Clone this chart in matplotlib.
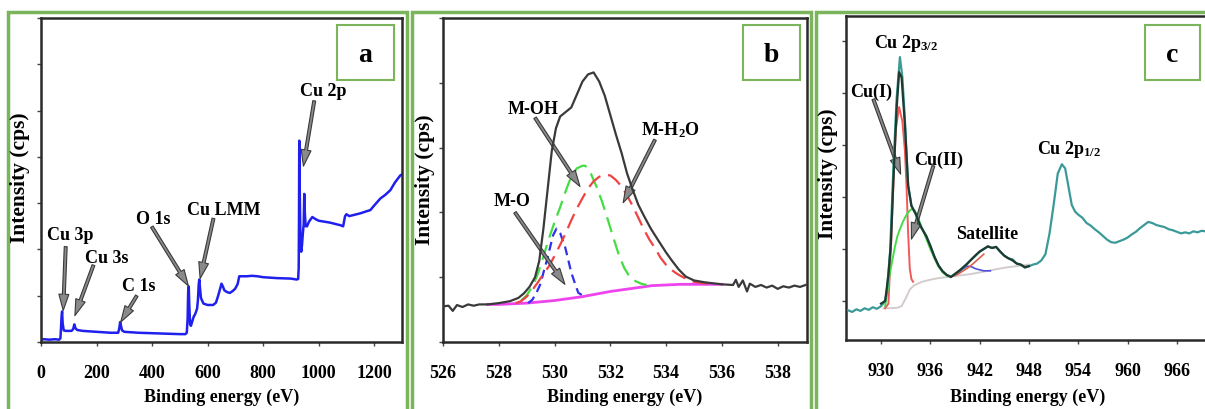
import matplotlib
matplotlib.use("Agg")
import matplotlib.pyplot as plt
from matplotlib.patches import Rectangle

plt.rcParams['font.family'] = ['Liberation Serif', 'DejaVu Serif']
plt.rcParams['font.weight'] = 'bold'
plt.rcParams['mathtext.fontset'] = 'custom'
plt.rcParams['mathtext.rm'] = 'Liberation Serif:bold'
plt.rcParams['mathtext.it'] = 'Liberation Serif:bold:italic'
plt.rcParams['mathtext.bf'] = 'Liberation Serif:bold'
plt.rcParams['mathtext.default'] = 'rm'

# ---------------- Panel a: survey spectrum ----------------
a_x = [0, 10, 30, 50, 65, 70, 72, 74, 76, 78, 82, 90, 100, 110, 116, 120, 124, 130, 150,
       200, 250, 278, 282, 285, 288, 292, 300, 350, 400, 450, 500, 520, 525, 528, 530,
       532, 534, 537, 540, 545, 550, 555, 558, 562, 565, 568, 570, 572, 576, 585, 600,
       620, 630, 638, 645, 650, 655, 660, 669, 680, 690, 699, 708, 714, 720, 740, 760,
       780, 800, 850, 900, 920, 926, 928, 929, 930, 932, 934, 937, 940, 943, 946, 948,
       950, 953, 958, 965, 977, 990, 1000, 1020, 1040, 1060, 1080, 1088, 1095, 1100,
       1110, 1130, 1150, 1170, 1186, 1200, 1222, 1240, 1258, 1275, 1294, 1300]
a_y = [0.05, 0.06, 0.05, 0.06, 0.05, 0.08, 0.3, 0.55, 0.66, 0.4, 0.25, 0.24, 0.24, 0.24,
       0.28, 0.38, 0.3, 0.26, 0.24, 0.22, 0.2, 0.2, 0.3, 0.43, 0.35, 0.25, 0.22, 0.2,
       0.19, 0.18, 0.17, 0.17, 0.2, 0.5, 1.1, 1.2, 0.8, 0.38, 0.35, 0.45, 0.55, 0.6,
       0.65, 0.72, 0.9, 1.25, 1.35, 1.2, 0.95, 0.83, 0.8, 0.8, 0.85, 1.0, 1.15, 1.26,
       1.2, 1.12, 1.08, 1.06, 1.1, 1.15, 1.25, 1.42, 1.42, 1.42, 1.43, 1.42, 1.4, 1.38,
       1.37, 1.35, 1.36, 1.6, 2.6, 4.35, 3.2, 2.3, 1.95, 2.1, 2.35, 2.55, 3.2, 2.8, 2.5,
       2.5, 2.6, 2.7, 2.65, 2.62, 2.6, 2.58, 2.55, 2.52, 2.5, 2.72, 2.76, 2.72, 2.75,
       2.78, 2.82, 2.85, 2.95, 3.1, 3.18, 3.28, 3.45, 3.6, 3.62]

a_labels = ["Cu 3p", "Cu 3s", "C 1s", "O 1s", "Cu LMM", "Cu 2p"]
a_label_xy = [(104, 2.22), (237, 1.72), (351, 1.13), (403, 2.57), (657, 2.76), (1017, 5.34)]
a_arrow_tail = [(89, 2.06), (189, 1.66), (345, 1.0), (399, 2.49), (621, 2.67), (984, 5.21)]
a_arrow_head = [(80, 0.68), (122, 0.57), (287, 0.43), (531, 1.21), (573, 1.37), (945, 3.8)]
a_xticks = [0, 200, 400, 600, 800, 1000, 1200]

# ---------------- Panel b: O 1s ----------------
b_env_x = [526.0, 526.2, 526.35, 526.5, 526.7, 526.9, 527.1, 527.3, 527.6, 528.0, 528.4,
           528.7, 528.9, 529.1, 529.3, 529.45, 529.6, 529.75, 529.9, 530.05, 530.2,
           530.4, 530.6, 530.8, 531.0, 531.2, 531.4, 531.6, 531.8, 532.0, 532.2, 532.4,
           532.6, 532.8, 533.0, 533.2, 533.45, 533.7, 534.0, 534.2, 534.45, 534.7,
           535.0, 535.4, 536.0, 536.4, 536.5, 536.6, 536.75, 536.9, 537.0, 537.2,
           537.4, 537.6, 537.8, 538.0, 538.2, 538.4, 538.6, 538.8, 539.0]
b_env_y = [0.55, 0.56, 0.48, 0.57, 0.54, 0.58, 0.56, 0.58, 0.58, 0.6, 0.63, 0.68, 0.75,
           0.85, 1.0, 1.25, 1.75, 2.35, 2.95, 3.3, 3.48, 3.55, 3.62, 3.82, 4.02, 4.13,
           4.16, 4.02, 3.8, 3.5, 3.2, 2.92, 2.6, 2.35, 2.12, 1.95, 1.75, 1.58, 1.38,
           1.26, 1.12, 1.01, 0.95, 0.92, 0.89, 0.88, 0.96, 0.85, 0.95, 0.78, 0.9, 0.85,
           0.88, 0.84, 0.87, 0.82, 0.86, 0.84, 0.87, 0.85, 0.88]
b_bg_x = [527.6, 528.0, 528.5, 529.0, 529.5, 530.0, 530.5, 531.0, 531.5, 532.0, 532.5,
          533.0, 533.5, 534.0, 534.5, 535.0, 535.5, 536.0]
b_bg_y = [0.58, 0.58, 0.59, 0.6, 0.62, 0.64, 0.67, 0.7, 0.74, 0.78, 0.81, 0.84, 0.87,
          0.88, 0.89, 0.89, 0.89, 0.89]
b_mo_x = [529.05, 529.2, 529.35, 529.5, 529.6, 529.75, 529.85, 529.95, 530.07, 530.2,
          530.37, 530.5, 530.6, 530.75, 530.85, 531.0, 531.15]
b_mo_y = [0.6, 0.65, 0.76, 0.9, 1.07, 1.3, 1.48, 1.65, 1.75, 1.68, 1.48, 1.25, 1.07,
          0.88, 0.76, 0.72, 0.71]
b_moh_x = [528.8, 529.0, 529.2, 529.4, 529.6, 529.8, 530.0, 530.2, 530.4, 530.6, 530.8,
           531.0, 531.1, 531.3, 531.5, 531.7, 531.9, 532.1, 532.3, 532.5, 532.7, 532.9,
           533.1, 533.3]
b_moh_y = [0.64, 0.72, 0.85, 1.05, 1.32, 1.6, 1.85, 2.08, 2.33, 2.56, 2.68, 2.72, 2.72,
           2.6, 2.4, 2.17, 1.9, 1.62, 1.35, 1.14, 1.0, 0.94, 0.9, 0.88]
b_mh2o_x = [528.6, 528.8, 529.0, 529.2, 529.4, 529.6, 529.8, 530.0, 530.2, 530.4, 530.6,
            530.8, 531.0, 531.2, 531.4, 531.6, 531.8, 532.0, 532.2, 532.4, 532.6, 532.8,
            533.0, 533.2, 533.4, 533.6, 533.8, 534.0, 534.2, 534.4, 534.6, 534.8, 535.0,
            535.3, 535.6]
b_mh2o_y = [0.6, 0.63, 0.7, 0.8, 0.92, 1.05, 1.17, 1.33, 1.5, 1.68, 1.88, 2.06, 2.22,
            2.37, 2.48, 2.55, 2.58, 2.57, 2.5, 2.4, 2.26, 2.1, 1.92, 1.74, 1.58, 1.45,
            1.3, 1.19, 1.11, 1.05, 1.0, 0.96, 0.93, 0.91, 0.9]
b_labels = ["M-OH", "M-H$_2$O", "M-O"]
b_label_xy = [(529.24, 3.53), (534.17, 3.2), (528.46, 2.11)]
b_arrow_tail = [(529.3, 3.46), (533.6, 3.12), (528.58, 2.0)]
b_arrow_head = [(530.91, 2.4), (532.46, 2.15), (530.37, 0.89)]
b_xticks = [526, 528, 530, 532, 534, 536, 538]

# ---------------- Panel c: Cu 2p ----------------
c_x = [926, 926.5, 927, 927.5, 928, 928.5, 929, 929.5, 930, 930.5, 930.7, 931.1, 931.5,
       931.9, 932.3, 932.6, 932.9, 933.3, 933.7, 934.2, 934.8, 935.5, 936, 936.5,
       937, 937.5, 938, 938.5, 939, 939.5, 940, 940.5, 941, 941.5, 942, 942.5, 943,
       943.5, 944, 944.5, 945, 945.5, 946, 946.5, 947, 947.5, 948, 948.5, 949, 949.5,
       950, 950.5, 951, 951.5, 952, 952.4, 952.8, 953.2, 953.6, 954, 954.5, 955, 955.5,
       956, 956.5, 957, 957.5, 958, 958.5, 959, 959.5, 960, 960.5, 961, 961.5, 962,
       962.5, 963, 963.5, 964, 964.5, 965, 965.5, 966, 966.5, 967, 967.5, 968, 968.5,
       969, 969.5, 970]
c_y = [0.82, 0.79, 0.84, 0.81, 0.86, 0.83, 0.88, 0.85, 0.9, 1.0, 1.17, 1.94, 3.54, 4.9,
       5.69, 5.3, 4.5, 3.22, 2.83, 2.68, 2.44, 2.25, 2.06, 1.85, 1.68, 1.57, 1.5,
       1.47, 1.52, 1.58, 1.63, 1.72, 1.8, 1.87, 1.95, 2.0, 2.05, 2.02, 2.04, 1.95, 1.87,
       1.82, 1.8, 1.72, 1.7, 1.64, 1.67, 1.7, 1.72, 1.78, 1.9, 2.3, 2.85, 3.45, 3.63,
       3.55, 3.2, 2.85, 2.72, 2.66, 2.6, 2.5, 2.45, 2.38, 2.32, 2.25, 2.18, 2.13, 2.12,
       2.15, 2.18, 2.22, 2.28, 2.33, 2.4, 2.46, 2.52, 2.5, 2.46, 2.44, 2.42, 2.38, 2.36,
       2.33, 2.3, 2.32, 2.3, 2.34, 2.32, 2.35, 2.34, 2.33]
c_env_x = [930.0, 930.5, 930.9, 931.2, 931.5, 931.9, 932.2, 932.5, 932.9, 933.3, 933.7,
           934.2, 934.8, 935.5, 936, 936.5, 937, 937.5, 938, 938.5, 939, 939.5, 940,
           940.5, 941, 941.5, 942, 942.5, 943, 943.5, 944, 944.5, 945, 945.5, 946,
           946.5, 947, 947.5, 948]
c_env_y = [0.95, 1.0, 1.5, 2.1, 3.3, 4.7, 5.4, 5.3, 4.4, 3.22, 2.83, 2.68, 2.44,
           2.25, 2.06, 1.85, 1.68, 1.57, 1.5, 1.46, 1.52, 1.58, 1.65, 1.72, 1.8, 1.88,
           1.95, 2.0, 2.05, 2.02, 2.04, 1.95, 1.87, 1.82, 1.78, 1.72, 1.7, 1.65, 1.67]
c_cu1_x = [930.5, 930.9, 931.2, 931.5, 931.8, 932.2, 932.6, 932.9, 933.1, 933.3, 933.5,
           933.7, 933.9]
c_cu1_y = [0.86, 0.95, 2.0, 3.22, 4.3, 4.73, 4.45, 3.9, 3.22, 2.3, 1.62, 1.42, 1.37]
c_cu2_x = [930.5, 930.8, 931.1, 931.4, 931.7, 932.0, 932.3, 932.6, 932.9, 933.2, 933.5,
           933.8, 934.1, 934.5, 935, 935.5, 936, 936.5, 937, 937.5, 938]
c_cu2_y = [0.9, 1.2, 1.55, 1.8, 2.05, 2.25, 2.38, 2.5, 2.6, 2.68, 2.74, 2.77, 2.74, 2.6,
           2.4, 2.2, 2.0, 1.82, 1.66, 1.55, 1.49]
c_bg_x = [930.3, 931, 932, 932.5, 933, 933.5, 934, 935, 936, 937, 938, 939, 940, 941,
          942, 943, 944, 945, 946, 947, 948]
c_bg_y = [0.86, 0.86, 0.87, 0.9, 1.05, 1.22, 1.3, 1.37, 1.41, 1.44, 1.46, 1.48, 1.5,
          1.52, 1.55, 1.58, 1.61, 1.64, 1.66, 1.68, 1.7]
c_sat1_x = [938.5, 939, 939.5, 940, 940.5, 941, 941.5, 942, 942.5, 943.3]
c_sat1_y = [1.47, 1.5, 1.56, 1.62, 1.67, 1.66, 1.62, 1.6, 1.58, 1.58]
c_sat2_x = [938.5, 939, 939.5, 940, 940.5, 941, 941.5, 942, 942.5]
c_sat2_y = [1.47, 1.49, 1.53, 1.58, 1.63, 1.69, 1.76, 1.83, 1.9]
c_labels = ["Cu 2p$_{3/2}$", "Cu(I)", "Cu(II)", "Satellite", "Cu 2p$_{1/2}$"]
c_label_xy = [(933.0, 5.88), (928.76, 4.95), (936.97, 3.63), (942.86, 2.22), (952.87, 3.85)]
c_arrow_tail = [(929.07, 4.88), (936.37, 3.6)]
c_arrow_head = [(932.39, 3.44), (933.7, 2.19)]
c_xticks = [930, 936, 942, 948, 954, 960, 966]

panel_letters = ["a", "b", "c"]

# ---------------- figure ----------------
W, H = 1205, 410
fig = plt.figure(figsize=(W / 100, H / 100), dpi=100)


def ax_at(l, r, t, b):
    return fig.add_axes([l / W, 1 - b / H, (r - l) / W, (b - t) / H])


FRAME = '#7ab55c'
TXT = 13
arrow_kw = dict(arrowstyle='simple,head_length=0.9,head_width=0.55,tail_width=0.16',
                fc='#8a8a8a', ec='#3a3a3a', lw=0.8, shrinkA=0, shrinkB=0,
                mutation_scale=13)

# green panel frames
for (l, r) in [(8, 407), (412, 811), (816, 1215)]:
    fig.patches.append(Rectangle((l / W, -0.05), (r - l) / W, 1.05 - 13 / H,
                                 transform=fig.transFigure, fill=False,
                                 ec=FRAME, lw=2.5, zorder=0))

ax_a = ax_at(41, 402, 19, 343)
ax_b = ax_at(443, 807, 19, 343)
ax_c = ax_at(846, 1210, 17, 341)

for ax in (ax_a, ax_b, ax_c):
    for s in ax.spines.values():
        s.set_color('#2a2a2a')
        s.set_linewidth(1.8)
    ax.tick_params(direction='out', length=3, width=1, color='#444444',
                   labelsize=TXT, pad=13)

# panel a
ax_a.plot(a_x, a_y, color='#2020ee', lw=1.8)
ax_a.set_xlim(0, 1300)
ax_a.set_ylim(0, 7)
ax_a.set_yticks(range(8))
ax_a.set_yticklabels([])
ax_a.set_xticks(a_xticks)
ax_a.set_xticklabels([str(v) for v in a_xticks], fontweight='bold')
for lab, (x, y) in zip(a_labels, a_label_xy):
    ax_a.text(x, y, lab, ha='center', va='baseline', fontsize=TXT, fontweight='bold')
for tl, hd in zip(a_arrow_tail, a_arrow_head):
    ax_a.annotate('', xy=hd, xytext=tl, arrowprops=arrow_kw)

# panel b
ax_b.plot(b_bg_x, b_bg_y, color='#ee44ee', lw=2.0, zorder=2)
ax_b.plot(b_mo_x, b_mo_y, color='#3030ee', lw=1.6, dashes=(4, 2.5), zorder=3)
ax_b.plot(b_moh_x, b_moh_y, color='#44dd44', lw=1.6, dashes=(7, 3.5), zorder=3)
ax_b.plot(b_mh2o_x, b_mh2o_y, color='#ee4444', lw=1.6, dashes=(7, 3.5), zorder=3)
ax_b.plot(b_env_x, b_env_y, color='#3a3a3a', lw=1.6, zorder=4)
ax_b.set_xlim(526, 539.05)
ax_b.set_ylim(0, 5)
ax_b.set_yticks(range(6))
ax_b.set_yticklabels([])
ax_b.set_xticks(b_xticks)
ax_b.set_xticklabels([str(v) for v in b_xticks], fontweight='bold')
for lab, (x, y) in zip(b_labels, b_label_xy):
    ax_b.text(x, y, lab, ha='center', va='baseline', fontsize=TXT, fontweight='bold')
for tl, hd in zip(b_arrow_tail, b_arrow_head):
    ax_b.annotate('', xy=hd, xytext=tl, arrowprops=arrow_kw)

# panel c
ax_c.plot(c_bg_x, c_bg_y, color='#d4cccc', lw=1.4, zorder=2)
ax_c.plot(c_sat1_x, c_sat1_y, color='#5050e0', lw=1.2, zorder=3)
ax_c.plot(c_sat2_x, c_sat2_y, color='#e06050', lw=1.2, zorder=3)
ax_c.plot(c_cu1_x, c_cu1_y, color='#f05a5a', lw=1.4, zorder=3)
ax_c.plot(c_cu2_x, c_cu2_y, color='#44dd44', lw=1.4, zorder=3)
ax_c.plot(c_x, c_y, color='#3a9a98', lw=1.6, zorder=4)
ax_c.plot(c_env_x, c_env_y, color='#1f3a30', lw=1.6, zorder=5)
ax_c.set_xlim(925.74, 970.02)
ax_c.set_ylim(0.25, 6.48)
ax_c.set_yticks(range(1, 7))
ax_c.set_yticklabels([])
ax_c.set_xticks(c_xticks)
ax_c.set_xticklabels([str(v) for v in c_xticks], fontweight='bold')
for lab, (x, y) in zip(c_labels, c_label_xy):
    ax_c.text(x, y, lab, ha='center', va='baseline', fontsize=TXT, fontweight='bold')
for tl, hd in zip(c_arrow_tail, c_arrow_head):
    ax_c.annotate('', xy=hd, xytext=tl, arrowprops=arrow_kw)

# axis labels
for xc in [(41 + 402) / 2, (443 + 807) / 2, 1028]:
    fig.text(xc / W, 1 - 402 / H, "Binding energy (eV)", ha='center', va='baseline',
             fontsize=TXT, fontweight='bold')
for xc, yc in [(20, 178), (425, 180), (828, 174)]:
    fig.text(xc / W, 1 - yc / H, "Intensity (cps)", rotation=90, ha='center',
             va='center', fontsize=15.5, fontweight='bold')

# panel letter boxes
for lett, (l, r) in zip(panel_letters, [(337, 394), (743, 800), (1145, 1200)]):
    fig.patches.append(Rectangle((l / W, 1 - 81 / H), (r - l) / W, 55 / H,
                                 transform=fig.transFigure, fc='white', ec=FRAME,
                                 lw=1.5, zorder=10))
    fig.text((l + r) / 2 / W, 1 - 62 / H, lett, ha='center', va='baseline',
             fontsize=20, fontweight='bold', zorder=11)

fig.savefig("out.png", dpi=100)
